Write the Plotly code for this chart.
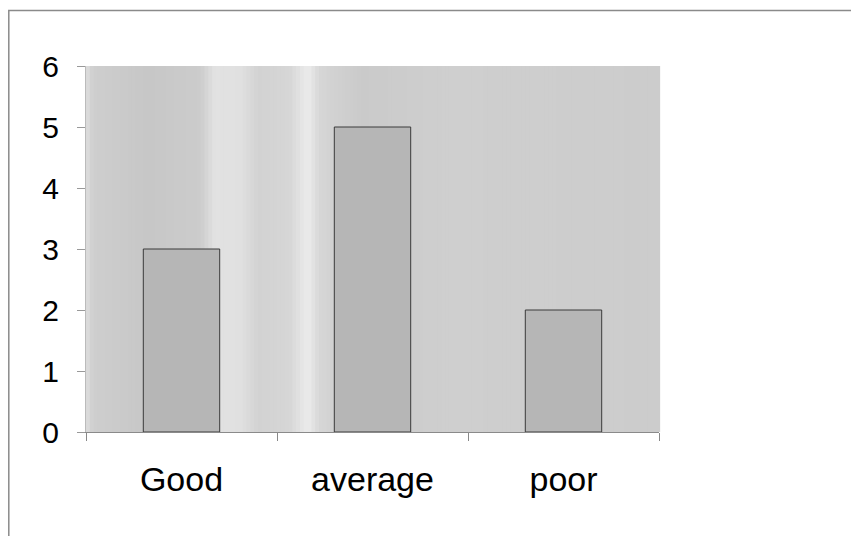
import plotly.graph_objects as go

categories = ["Good", "average", "poor"]
values = [3, 5, 2]
y_ticks = [0, 1, 2, 3, 4, 5, 6]

# background gradient profile (domain fraction, gray level)
grad_stops = [(0.0, 222), (0.012, 206), (0.11, 199), (0.20, 204), (0.225, 226),
              (0.27, 224), (0.30, 210), (0.355, 214), (0.387, 236), (0.408, 214),
              (0.48, 202), (0.635, 207), (1.0, 204)]

def gray_at(f):
    for (a, ga), (b, gb) in zip(grad_stops[:-1], grad_stops[1:]):
        if a <= f <= b:
            t = (f - a) / (b - a) if b > a else 0
            return ga + (gb - ga) * t
    return grad_stops[-1][1]

shapes = []
N = 150
for i in range(N):
    f0, f1 = i / N, (i + 1) / N
    g = int(round(gray_at((f0 + f1) / 2)))
    shapes.append(dict(type="rect", xref="x domain", yref="y domain",
                       x0=f0, x1=f1 + 0.002, y0=0, y1=1, layer="below",
                       line=dict(width=0), fillcolor=f"rgb({g},{g},{g})"))

# page offset of 8px (body margin) -> figure sized to the remaining window
W, H = 851, 528
ml, mr, mt, mb = 78, 200, 58, 104
pw, ph = W - ml - mr, H - mt - mb
def px(x):
    return (x - ml) / pw
def py(y):
    return (H - mb - y) / ph
# outer frame (partially cropped at right/bottom)
shapes.append(dict(type="rect", xref="paper", yref="paper",
                   x0=px(0.8), x1=px(900), y0=py(600), y1=py(2.5),
                   line=dict(color="#8a8a8a", width=1.5), fillcolor="rgba(0,0,0,0)",
                   layer="above"))

fig = go.Figure(go.Bar(
    x=categories, y=values, width=0.4,
    marker=dict(color="#b6b6b6", line=dict(color="#3a3a3a", width=1)),
))

fig.update_layout(
    width=W, height=H,
    margin=dict(l=ml, r=mr, t=mt, b=mb),
    paper_bgcolor="white", plot_bgcolor="white",
    showlegend=False,
    shapes=shapes,
    font=dict(family="Liberation Sans, Arial, sans-serif", color="black"),
)
fig.update_xaxes(
    type="category", tickson="boundaries", ticks="outside", ticklen=8,
    tickcolor="#888", showline=True, linecolor="#8a8a8a", linewidth=1,
    showgrid=False, tickfont=dict(size=34), ticklabelstandoff=17,
)
fig.update_yaxes(
    range=[0, 6], tickvals=y_ticks, ticks="outside", ticklen=8,
    tickcolor="#999", showline=True, linecolor="#bbbbbb", linewidth=1,
    showgrid=False, zeroline=False, tickfont=dict(size=30), ticklabelstandoff=12,
)

fig.write_html("out.html")
